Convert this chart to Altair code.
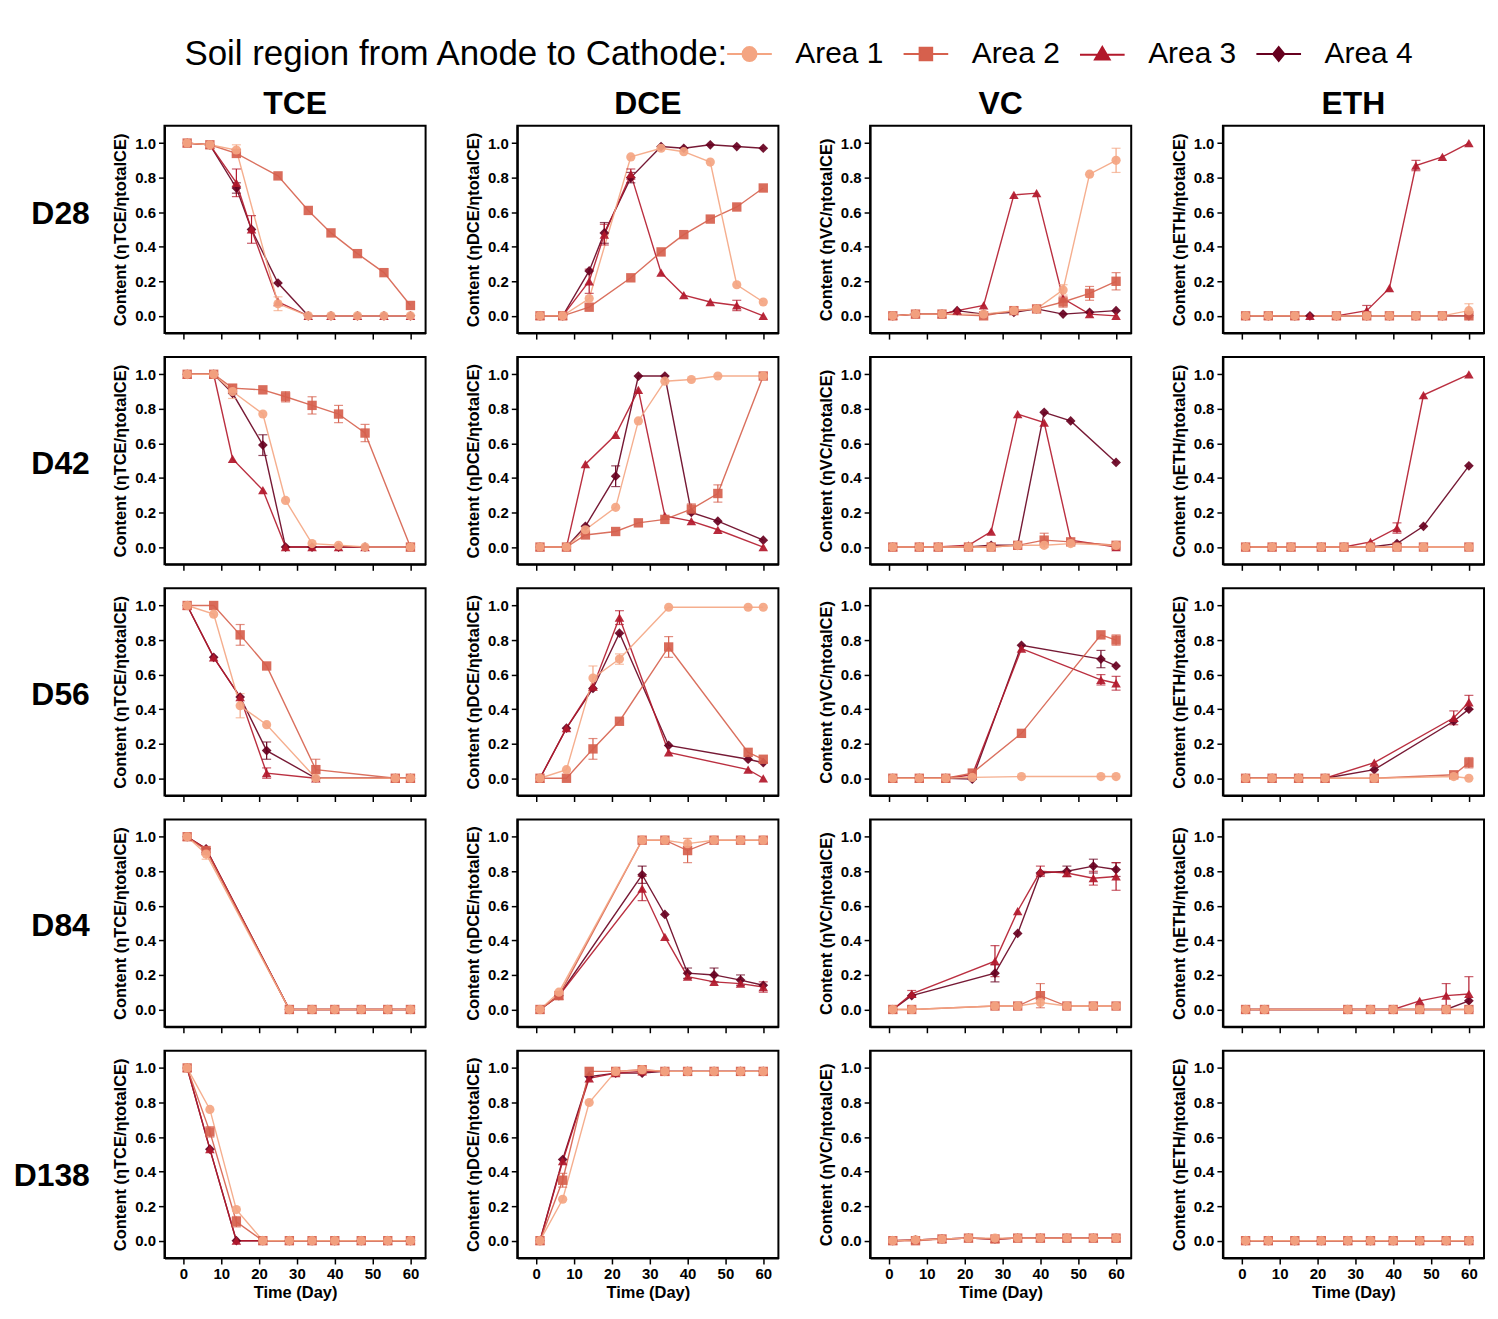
import altair as alt
import pandas as pd

AREAS = ["Area 1", "Area 2", "Area 3", "Area 4"]
AREA_COLORS = ["#F4A582", "#D6604D", "#B2182B", "#67001F"]
AREA_SHAPES = ["circle", "square", "triangle-up", "diamond"]
AREA_SIZES = [85, 95, 85, 60]
# legend symbols: marker with a line through it (unit box -1..1)
LEGEND_PATHS = [
    "M-3.2,0L3.2,0M-1,0A1,1 0 1,0 1,0A1,1 0 1,0 -1,0Z",
    "M-3.2,0L3.2,0M-0.9,-0.9L0.9,-0.9L0.9,0.9L-0.9,0.9Z",
    "M-3.2,0.1L3.2,0.1M0,-1L1.05,0.8L-1.05,0.8Z",
    "M-3.2,0L3.2,0M0,-1L0.8,0L0,1L-0.8,0Z",
]
COMPOUNDS = ["TCE", "DCE", "VC", "ETH"]
PERIODS = ["D28", "D42", "D56", "D84", "D138"]
X_TICKS = [0, 5, 10, 15, 20, 25, 30, 35, 40, 45, 50, 55, 60]
Y_TICKS = [0.0, 0.1, 0.2, 0.3, 0.4, 0.5, 0.6, 0.7, 0.8, 0.9, 1.0]
LEGEND_TITLE = "Soil region from Anode to Cathode:"

# ---- D28 (Area 1, Area 2, Area 3, Area 4) ----
D28_DAYS = [[1, 7, 14, 25, 33, 39, 46, 53, 60],
            [1, 7, 14, 25, 33, 39, 46, 53, 60],
            [1, 7, 14, 18, 25, 33, 39, 46, 53, 60],
            [1, 7, 14, 18, 25, 33, 39, 46, 53, 60]]
D28_TCE = [[1.00, 0.99, 0.96, 0.07, 0.0, 0.0, 0.0, 0.0, 0.0],
           [1.00, 0.99, 0.94, 0.81, 0.61, 0.48, 0.36, 0.25, 0.06],
           [1.00, 0.99, 0.77, 0.50, 0.08, 0.0, 0.0, 0.0, 0.0, 0.0],
           [1.00, 0.99, 0.74, 0.50, 0.19, 0.0, 0.0, 0.0, 0.0, 0.0]]
D28_DCE = [[0.0, 0.0, 0.10, 0.92, 0.97, 0.95, 0.89, 0.18, 0.08],
           [0.0, 0.0, 0.05, 0.22, 0.37, 0.47, 0.56, 0.63, 0.74],
           [0.0, 0.0, 0.20, 0.47, 0.82, 0.25, 0.12, 0.08, 0.06, 0.0],
           [0.0, 0.0, 0.26, 0.48, 0.80, 0.98, 0.97, 0.99, 0.98, 0.97]]
D28_VC = [[0.0, 0.01, 0.01, 0.01, 0.03, 0.04, 0.15, 0.82, 0.90],
          [0.0, 0.01, 0.01, 0.0, 0.03, 0.04, 0.08, 0.13, 0.20],
          [0.0, 0.01, 0.01, 0.03, 0.06, 0.70, 0.71, 0.10, 0.01, 0.0],
          [0.0, 0.01, 0.01, 0.03, 0.01, 0.02, 0.04, 0.01, 0.02, 0.03]]
D28_ETH = [[0.0, 0.0, 0.0, 0.0, 0.0, 0.0, 0.0, 0.0, 0.03],
           [0.0, 0.0, 0.0, 0.0, 0.0, 0.0, 0.0, 0.0, 0.0],
           [0.0, 0.0, 0.0, 0.0, 0.0, 0.03, 0.16, 0.87, 0.92, 1.00],
           [0.0, 0.0, 0.0, 0.0, 0.0, 0.0, 0.0, 0.0, 0.0, 0.0]]

# ---- D42 ----
D42_DAYS = [[1, 8, 13, 21, 27, 34, 41, 48, 60]] * 4
D42_TCE = [[1.00, 1.00, 0.90, 0.77, 0.27, 0.02, 0.01, 0.0, 0.0],
           [1.00, 1.00, 0.92, 0.91, 0.87, 0.82, 0.77, 0.66, 0.0],
           [1.00, 1.00, 0.51, 0.33, 0.0, 0.0, 0.0, 0.0, 0.0],
           [1.00, 1.00, 0.89, 0.59, 0.0, 0.0, 0.0, 0.0, 0.0]]
D42_DCE = [[0.0, 0.0, 0.10, 0.23, 0.73, 0.96, 0.97, 0.99, 0.99],
           [0.0, 0.0, 0.07, 0.09, 0.14, 0.16, 0.22, 0.31, 0.99],
           [0.0, 0.0, 0.48, 0.65, 0.91, 0.18, 0.15, 0.10, 0.0],
           [0.0, 0.0, 0.12, 0.41, 0.99, 0.99, 0.20, 0.15, 0.04]]
D42_VC = [[0.0, 0.0, 0.0, 0.0, 0.0, 0.01, 0.01, 0.02, 0.01],
          [0.0, 0.0, 0.0, 0.0, 0.0, 0.01, 0.04, 0.03, 0.01],
          [0.0, 0.0, 0.0, 0.01, 0.09, 0.77, 0.72, 0.04, 0.0],
          [0.0, 0.0, 0.0, 0.0, 0.01, 0.01, 0.78, 0.73, 0.49]]
D42_ETH = [[0.0, 0.0, 0.0, 0.0, 0.0, 0.0, 0.0, 0.0, 0.0],
           [0.0, 0.0, 0.0, 0.0, 0.0, 0.0, 0.0, 0.0, 0.0],
           [0.0, 0.0, 0.0, 0.0, 0.0, 0.03, 0.11, 0.88, 1.00],
           [0.0, 0.0, 0.0, 0.0, 0.0, 0.0, 0.02, 0.12, 0.47]]

# ---- D56 ----
D56_DAYS = [[1, 8, 15, 22, 35, 56, 60]] * 4
D56_TCE = [[1.00, 0.95, 0.42, 0.31, 0.0, 0.0, 0.0],
           [1.00, 1.00, 0.83, 0.65, 0.05, 0.0, 0.0],
           [1.00, 0.70, 0.47, 0.03, 0.0, 0.0, 0.0],
           [1.00, 0.70, 0.47, 0.16, 0.0, 0.0, 0.0]]
D56_DCE = [[0.0, 0.05, 0.58, 0.69, 0.99, 0.99, 0.99],
           [0.0, 0.0, 0.17, 0.33, 0.76, 0.15, 0.11],
           [0.0, 0.29, 0.53, 0.93, 0.15, 0.05, 0.0],
           [0.0, 0.29, 0.52, 0.84, 0.19, 0.11, 0.09]]
D56_VC = [[0.0, 0.0, 0.0, 0.005, 0.01, 0.01, 0.01],
          [0.0, 0.0, 0.0, 0.03, 0.26, 0.83, 0.80],
          [0.0, 0.0, 0.0, 0.02, 0.75, 0.57, 0.55],
          [0.0, 0.0, 0.0, -0.005, 0.77, 0.69, 0.65]]
D56_ETH = [[0.0, 0.0, 0.0, 0.0, 0.0, 0.01, 0.0],
           [0.0, 0.0, 0.0, 0.0, 0.0, 0.02, 0.09],
           [0.0, 0.0, 0.0, 0.0, 0.09, 0.35, 0.44],
           [0.0, 0.0, 0.0, 0.0, 0.05, 0.33, 0.40]]

# ---- D84 ----
D84_DAYS = [[1, 6, 28, 34, 40, 47, 54, 60]] * 4
D84_TCE = [[1.00, 0.90, 0.0, 0.0, 0.0, 0.0, 0.0, 0.0],
           [1.00, 0.92, 0.0, 0.0, 0.0, 0.0, 0.0, 0.0],
           [1.00, 0.93, 0.0, 0.0, 0.0, 0.0, 0.0, 0.0],
           [1.00, 0.93, 0.0, 0.0, 0.0, 0.0, 0.0, 0.0]]
D84_DCE = [[0.0, 0.10, 0.98, 0.98, 0.96, 0.98, 0.98, 0.98],
           [0.0, 0.08, 0.98, 0.98, 0.92, 0.98, 0.98, 0.98],
           [0.0, 0.08, 0.70, 0.42, 0.19, 0.16, 0.15, 0.13],
           [0.0, 0.08, 0.78, 0.55, 0.21, 0.20, 0.17, 0.14]]
D84_VC = [[0.0, 0.0, 0.02, 0.02, 0.04, 0.02, 0.02, 0.02],
          [0.0, 0.0, 0.02, 0.02, 0.08, 0.02, 0.02, 0.02],
          [0.0, 0.09, 0.28, 0.57, 0.80, 0.79, 0.76, 0.77],
          [0.0, 0.08, 0.21, 0.44, 0.79, 0.80, 0.83, 0.81]]
D84_ETH = [[0.0, 0.0, 0.0, 0.0, 0.0, 0.0, 0.0, 0.0],
           [0.0, 0.0, 0.0, 0.0, 0.0, 0.0, 0.0, 0.0],
           [0.0, 0.0, 0.0, 0.0, 0.0, 0.05, 0.08, 0.09],
           [0.0, 0.0, 0.0, 0.0, 0.0, 0.0, 0.0, 0.05]]

# ---- D138 ----
D138_DAYS = [[1, 7, 14, 21, 28, 34, 40, 47, 54, 60]] * 4
D138_TCE = [[1.00, 0.76, 0.18, 0.0, 0.0, 0.0, 0.0, 0.0, 0.0, 0.0],
            [1.00, 0.63, 0.11, 0.0, 0.0, 0.0, 0.0, 0.0, 0.0, 0.0],
            [1.00, 0.53, 0.0, 0.0, 0.0, 0.0, 0.0, 0.0, 0.0, 0.0],
            [1.00, 0.53, 0.0, 0.0, 0.0, 0.0, 0.0, 0.0, 0.0, 0.0]]
D138_DCE = [[0.0, 0.24, 0.80, 0.98, 0.99, 0.98, 0.98, 0.98, 0.98, 0.98],
            [0.0, 0.35, 0.98, 0.98, 0.99, 0.98, 0.98, 0.98, 0.98, 0.98],
            [0.0, 0.46, 0.94, 0.97, 0.98, 0.98, 0.98, 0.98, 0.98, 0.98],
            [0.0, 0.47, 0.95, 0.97, 0.97, 0.98, 0.98, 0.98, 0.98, 0.98]]
D138_VC = [[0.0, 0.005, 0.01, 0.015, 0.015, 0.015, 0.015, 0.015, 0.015, 0.015],
           [0.0, 0.0, 0.01, 0.015, 0.01, 0.015, 0.015, 0.015, 0.015, 0.015],
           [0.0, 0.005, 0.01, 0.015, 0.01, 0.015, 0.015, 0.015, 0.015, 0.015],
           [0.0, 0.005, 0.01, 0.015, 0.01, 0.015, 0.015, 0.015, 0.015, 0.015]]
D138_ETH = [[0.0] * 10, [0.0] * 10, [0.0] * 10, [0.0] * 10]

# error bars: (period, compound, area index, day, half-width)
ERRORS = [
    ("D28", "TCE", 0, 14, 0.03), ("D28", "TCE", 2, 14, 0.08), ("D28", "TCE", 2, 18, 0.08),
    ("D28", "TCE", 0, 25, 0.04), ("D28", "TCE", 3, 14, 0.03),
    ("D28", "DCE", 2, 14, 0.07), ("D28", "DCE", 3, 18, 0.06), ("D28", "DCE", 2, 18, 0.06),
    ("D28", "DCE", 2, 25, 0.03), ("D28", "DCE", 2, 53, 0.03), ("D28", "DCE", 3, 25, 0.03),
    ("D28", "VC", 0, 60, 0.07), ("D28", "VC", 1, 60, 0.05), ("D28", "VC", 1, 53, 0.04),
    ("D28", "VC", 0, 46, 0.03), ("D28", "VC", 1, 46, 0.03),
    ("D28", "ETH", 2, 46, 0.03), ("D28", "ETH", 2, 33, 0.03), ("D28", "ETH", 0, 60, 0.04),
    ("D42", "TCE", 3, 21, 0.06), ("D42", "TCE", 1, 27, 0.03), ("D42", "TCE", 1, 34, 0.05),
    ("D42", "TCE", 1, 41, 0.05), ("D42", "TCE", 1, 48, 0.05), ("D42", "TCE", 0, 13, 0.04),
    ("D42", "DCE", 3, 21, 0.06), ("D42", "DCE", 1, 41, 0.03), ("D42", "DCE", 1, 48, 0.05),
    ("D42", "VC", 1, 41, 0.04), ("D42", "ETH", 2, 41, 0.03),
    ("D56", "TCE", 1, 15, 0.06), ("D56", "TCE", 0, 15, 0.07), ("D56", "TCE", 3, 22, 0.05),
    ("D56", "TCE", 2, 22, 0.03), ("D56", "TCE", 1, 35, 0.06),
    ("D56", "DCE", 0, 15, 0.07), ("D56", "DCE", 1, 15, 0.06), ("D56", "DCE", 0, 22, 0.03),
    ("D56", "DCE", 2, 22, 0.04), ("D56", "DCE", 1, 35, 0.06),
    ("D56", "VC", 2, 56, 0.03), ("D56", "VC", 2, 60, 0.04), ("D56", "VC", 1, 60, 0.03),
    ("D56", "VC", 3, 56, 0.05),
    ("D56", "ETH", 2, 56, 0.04), ("D56", "ETH", 2, 60, 0.04), ("D56", "ETH", 1, 60, 0.03),
    ("D84", "TCE", 0, 6, 0.03),
    ("D84", "DCE", 1, 40, 0.07), ("D84", "DCE", 0, 40, 0.03), ("D84", "DCE", 3, 28, 0.05),
    ("D84", "DCE", 2, 28, 0.07), ("D84", "DCE", 3, 40, 0.03), ("D84", "DCE", 3, 47, 0.04),
    ("D84", "DCE", 3, 54, 0.03), ("D84", "DCE", 2, 60, 0.03),
    ("D84", "VC", 2, 28, 0.09), ("D84", "VC", 3, 28, 0.05), ("D84", "VC", 1, 40, 0.07),
    ("D84", "VC", 2, 40, 0.03), ("D84", "VC", 3, 47, 0.03), ("D84", "VC", 3, 54, 0.04),
    ("D84", "VC", 2, 54, 0.04), ("D84", "VC", 2, 60, 0.08), ("D84", "VC", 3, 60, 0.04),
    ("D84", "VC", 2, 6, 0.02),
    ("D84", "ETH", 2, 54, 0.07), ("D84", "ETH", 2, 60, 0.10),
    ("D138", "TCE", 1, 7, 0.03), ("D138", "TCE", 1, 14, 0.03),
    ("D138", "DCE", 1, 7, 0.04),
]

SERIES = {
    "D28": (D28_DAYS, {"TCE": D28_TCE, "DCE": D28_DCE, "VC": D28_VC, "ETH": D28_ETH}),
    "D42": (D42_DAYS, {"TCE": D42_TCE, "DCE": D42_DCE, "VC": D42_VC, "ETH": D42_ETH}),
    "D56": (D56_DAYS, {"TCE": D56_TCE, "DCE": D56_DCE, "VC": D56_VC, "ETH": D56_ETH}),
    "D84": (D84_DAYS, {"TCE": D84_TCE, "DCE": D84_DCE, "VC": D84_VC, "ETH": D84_ETH}),
    "D138": (D138_DAYS, {"TCE": D138_TCE, "DCE": D138_DCE, "VC": D138_VC, "ETH": D138_ETH}),
}

err_lookup = {(p, c, a, d): e for p, c, a, d, e in ERRORS}
records = []
for period in PERIODS:
    days_by_area, comps = SERIES[period]
    for comp in COMPOUNDS:
        vals_by_area = comps[comp]
        for ai in [3, 2, 1, 0]:
            for day, val in zip(days_by_area[ai], vals_by_area[ai]):
                e = err_lookup.get((period, comp, ai, day), 0.0)
                records.append({"period": period, "comp": comp, "area": AREAS[ai],
                                "order": 3 - ai, "day": day, "val": val,
                                "err": e, "lo": val - e, "hi": val + e})
df = pd.DataFrame(records)

FONT = "Liberation Sans"
PANEL_W = 262
PANEL_H = 208

color_enc = alt.Color("area:N", scale=alt.Scale(domain=AREAS, range=AREA_COLORS), legend=None)
shape_enc = alt.Shape("area:N", scale=alt.Scale(domain=AREAS, range=AREA_SHAPES), legend=None)
size_enc = alt.Size("area:N", scale=alt.Scale(domain=AREAS, range=AREA_SIZES), legend=None)


def panel(period, comp, first_row, last_row):
    sub = df[(df["period"] == period) & (df["comp"] == comp)]
    if last_row:
        x = alt.X("day:Q", title="Time (Day)",
                  scale=alt.Scale(domain=[-5, 64], nice=False, zero=False),
                  axis=alt.Axis(values=X_TICKS, titlePadding=3,
                                labelExpr="datum.value % 10 == 0 ? datum.value : ''"))
    else:
        x = alt.X("day:Q", title=None,
                  scale=alt.Scale(domain=[-5, 64], nice=False, zero=False),
                  axis=alt.Axis(values=X_TICKS, labels=False))
    y = alt.Y("val:Q", title=f"Content (\u03b7{comp}/\u03b7totalCE)",
              scale=alt.Scale(domain=[-0.1, 1.1], nice=False, zero=False),
              axis=alt.Axis(values=Y_TICKS,
                            labelExpr="round(datum.value * 10) % 2 == 0 ? format(datum.value, '.1f') : ''"))
    base = alt.Chart(sub)
    line = base.mark_line(strokeWidth=1.4, opacity=0.9).encode(
        x=x, y=y, color=color_enc, detail="area:N", order="day:Q")
    errd = base.transform_filter("datum.err > 0")
    rule = errd.mark_rule(strokeWidth=1.2).encode(
        x="day:Q", y="lo:Q", y2="hi:Q", color=color_enc)
    cap_lo = errd.mark_tick(orient="horizontal", size=9, thickness=1.2).encode(
        x="day:Q", y="lo:Q", color=color_enc)
    cap_hi = errd.mark_tick(orient="horizontal", size=9, thickness=1.2).encode(
        x="day:Q", y="hi:Q", color=color_enc)
    pts = base.mark_point(filled=True, opacity=0.92).encode(
        x="day:Q", y="val:Q", color=color_enc, shape=shape_enc, size=size_enc,
        order="order:Q")
    props = dict(width=PANEL_W, height=PANEL_H)
    if first_row:
        props["title"] = alt.TitleParams(comp, anchor="middle", frame="group",
                                         fontSize=32, fontWeight="bold", offset=5)
    return alt.layer(line, rule, cap_lo, cap_hi, pts).properties(**props)


# legend-only chart (markers drawn with size 0; the legend carries the symbols)
legend_spec = alt.Legend(orient="none", legendX=20, legendY=20, direction="horizontal",
                         titleOrient="left", symbolSize=196, symbolOpacity=1,
                         symbolStrokeWidth=2, labelOffset=31, columnPadding=15,
                         titlePadding=5)
legend_df = pd.DataFrame({"area": AREAS})
legend_chart = alt.Chart(legend_df).mark_point(filled=True, size=0).encode(
    fill=alt.Fill("area:N", scale=alt.Scale(domain=AREAS, range=AREA_COLORS),
                  title=LEGEND_TITLE, legend=legend_spec),
    stroke=alt.Stroke("area:N", scale=alt.Scale(domain=AREAS, range=AREA_COLORS),
                      title=LEGEND_TITLE, legend=legend_spec),
    shape=alt.Shape("area:N", scale=alt.Scale(domain=AREAS, range=LEGEND_PATHS),
                    title=LEGEND_TITLE, legend=legend_spec),
).properties(width=1, height=1,
             view=alt.ViewBackground(stroke="transparent", strokeWidth=0))

rows = [legend_chart]
for ri, period in enumerate(PERIODS):
    panels = [panel(period, comp, ri == 0, ri == len(PERIODS) - 1) for comp in COMPOUNDS]
    rows.append(alt.hconcat(*panels, spacing=38).properties(
        title=alt.TitleParams(period, orient="left", anchor="middle", angle=0,
                              align="left", baseline="middle", fontSize=32,
                              fontWeight="bold", offset=22)))

chart = alt.vconcat(*rows, spacing=15).resolve_scale(
    shape="independent", fill="independent", stroke="independent"
).configure_view(
    stroke="black", strokeWidth=2
).configure_axis(
    domainColor="black", domainWidth=2, tickColor="black", tickWidth=1.5, tickSize=6,
    labelFont=FONT, labelFontSize=15, labelFontWeight="bold", labelColor="black",
    labelPadding=3, titleFont=FONT, titleFontSize=16.5, titleFontWeight="bold",
    titleColor="black", titlePadding=6, grid=False
).configure_title(
    font=FONT, color="black"
).configure_legend(
    titleFont=FONT, titleFontSize=35, titleFontWeight="normal", titleColor="black",
    titleLimit=0, labelFont=FONT, labelFontSize=30, labelColor="black", labelLimit=0
)

chart.save("out.html", embed_options={"renderer": "svg", "actions": False})
